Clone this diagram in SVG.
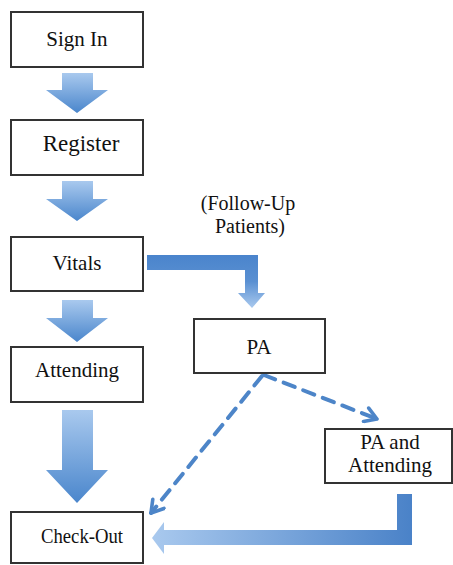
<svg xmlns="http://www.w3.org/2000/svg" width="453" height="565" viewBox="0 0 453 565">
<defs>
<linearGradient id="gv" x1="0" y1="0" x2="0" y2="1">
<stop offset="0" stop-color="#a9c9ee"/>
<stop offset="1" stop-color="#4a86cc"/>
</linearGradient>
<linearGradient id="gh" x1="0" y1="0" x2="1" y2="0">
<stop offset="0" stop-color="#a9c9ee"/>
<stop offset="1" stop-color="#4a82c8"/>
</linearGradient>
<linearGradient id="ge" gradientUnits="userSpaceOnUse" x1="0" y1="255" x2="0" y2="308">
<stop offset="0" stop-color="#4a84cc"/>
<stop offset="0.5" stop-color="#5a90d2"/>
<stop offset="1" stop-color="#a9c9ee"/>
</linearGradient>
<marker id="chev" viewBox="0 0 10 10" refX="8" refY="5" markerWidth="4.5" markerHeight="4.5" orient="auto" markerUnits="strokeWidth">
<path d="M1.5,1 L8,5 L1.5,9" fill="none" stroke="#4d85c8" stroke-width="2" stroke-linecap="round" stroke-linejoin="round"/>
</marker>
</defs>
<style>
.box{fill:#fff;stroke:#333;stroke-width:2}
text{font-family:"Liberation Serif","DejaVu Serif","Times New Roman",serif;font-size:21px;fill:#111;text-anchor:middle}
.barrow{fill:url(#gv)}
.dash{fill:none;stroke:#4d85c8;stroke-width:4;stroke-dasharray:12 9;stroke-linecap:round}
</style>
<rect width="453" height="565" fill="#fff"/>
<g id="connectors">
<path class="barrow" d="M62,73 H93 V90 H108 L77,113 L46,90 H62 Z"/>
<path class="barrow" d="M62,181 H93 V199 H108 L77,221 L46,199 H62 Z"/>
<path class="barrow" d="M62,300 H93 V318 H108 L77,342 L46,318 H62 Z"/>
<path class="barrow" d="M62,410 H93 V470 H108 L77,503 L46,470 H62 Z"/>
<path fill="url(#ge)" d="M147,255 H258 V293 H265 L252,308 L238,293 H245 V270 H147 Z"/>
<path fill="url(#gh)" d="M397,494 H412 V545 H164 V554 L152,538 L164,522 V530 H397 Z"/>
<line class="dash" x1="262" y1="376" x2="151" y2="513" marker-end="url(#chev)"/>
<line class="dash" x1="264" y1="375" x2="377" y2="419" marker-end="url(#chev)"/>
</g>
<g id="signin"><rect class="box" x="11" y="12" width="132" height="55"/><text x="77" y="46">Sign In</text></g>
<g id="register"><rect class="box" x="11" y="120" width="132" height="55"/><text x="81" y="151" style="font-size:23px">Register</text></g>
<g id="vitals"><rect class="box" x="11" y="237" width="132" height="54"/><text x="77" y="270">Vitals</text></g>
<g id="attending"><rect class="box" x="11" y="347" width="132" height="55"/><text x="77" y="377">Attending</text></g>
<g id="checkout"><rect class="box" x="11" y="512" width="132" height="51"/><text x="82" y="543" style="font-size:20px" textLength="82" lengthAdjust="spacingAndGlyphs">Check-Out</text></g>
<g id="pa"><rect class="box" x="194" y="319" width="131" height="54"/><text x="259" y="354">PA</text></g>
<g id="pa-attending"><rect class="box" x="325" y="429" width="127" height="54"/><text x="390" y="449">PA and</text><text x="390" y="472">Attending</text></g>
<g id="followup-label"><text x="248" y="210" style="font-size:20px">(Follow-Up</text><text x="250" y="233" style="font-size:20px">Patients)</text></g>
</svg>
